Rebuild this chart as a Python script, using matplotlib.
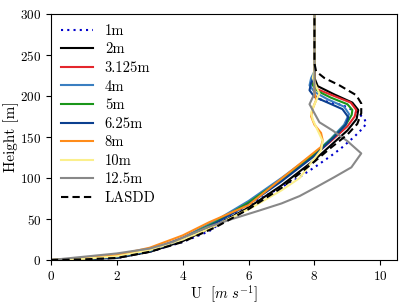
import matplotlib
matplotlib.use("Agg")
import matplotlib.pyplot as plt

plt.rcParams["font.family"] = ["cmr10", "DejaVu Serif"]
plt.rcParams["mathtext.fontset"] = "cm"
plt.rcParams["axes.formatter.use_mathtext"] = True

# -----------------------------
# profiles: (U [m/s], height [m])
# -----------------------------
u_1m = [0, 2, 3, 4, 4.8, 5.5, 6, 7, 7.5, 8, 8.5, 8.8, 9.2, 9.45, 9.57, 9.52, 9.3, 8.85, 8.3, 8.05, 8.0, 8.0]
z_1m = [0, 2.5, 10, 22, 35, 55, 67, 89, 100, 113, 127, 136, 150, 160, 166, 172, 180, 189, 194, 198, 205, 300]

u_2m = [0, 2, 3, 4, 5, 6, 7, 8, 8.5, 9, 9.28, 9.33, 9.15, 8.6, 8.1, 8.0, 8.0]
z_2m = [0, 2.5, 10, 23, 42, 64, 91, 122, 140, 158, 172, 183, 192, 202, 212, 222, 300]

u_3m = [0, 2, 3, 4, 5, 6, 7, 8, 8.5, 9, 9.22, 9.27, 9.1, 8.6, 8.1, 7.95, 8.0, 8.0]
z_3m = [0, 4, 12, 27, 47, 70, 97, 128, 145, 163, 175, 183, 192, 200, 208, 215, 225, 300]

u_4m = [0, 2, 3, 4, 5, 6, 7, 8, 8.5, 8.9, 9.05, 8.9, 8.4, 8.0, 7.85, 7.9, 8.0, 8.0]
z_4m = [0, 4, 12, 27, 48, 72, 100, 130, 148, 165, 178, 187, 196, 205, 213, 222, 230, 300]

u_5m = [0, 2, 3, 4, 5, 6, 7, 8, 8.5, 8.95, 9.13, 9.15, 9.0, 8.5, 8.1, 7.95, 8.0, 8.0]
z_5m = [0, 3.5, 11, 26, 46, 70, 98, 129, 147, 165, 177, 183, 190, 198, 206, 213, 222, 300]

u_6m = [0, 2, 3, 4, 5, 6, 7, 8, 8.6, 8.95, 9.03, 8.85, 8.4, 8.0, 7.85, 7.9, 8.0, 8.0]
z_6m = [0, 3, 11, 25, 45, 68, 96, 127, 150, 165, 174, 184, 192, 199, 207, 216, 225, 300]

u_8m = [0, 1, 2, 3, 4, 4.8, 6, 7.24, 8.2, 8.25, 8.2, 8.0, 7.9, 7.95, 8.05, 8.0, 8.0]
z_8m = [0, 2, 6, 15, 30, 46, 67, 107, 138, 146, 155, 165, 175, 185, 195, 205, 300]

u_10m = [0, 1, 2, 3, 4, 4.8, 5.5, 6.1, 7, 7.55, 7.85, 8.2, 8.25, 8.1, 7.95, 7.9, 8.0, 8.15, 8.05, 7.95, 8.0, 8.0]
z_10m = [0, 1.5, 4.5, 12, 25, 38, 52, 64, 85, 100, 116, 134, 145, 158, 171, 180, 190, 203, 212, 222, 232, 300]

u_12m = [0, 1, 2, 3, 3.7, 4.75, 5.5, 6.3, 7, 7.55, 8.06, 8.6, 9.12, 9.42, 9.0, 8.55, 8.15, 7.85, 8.0, 8.0, 8.0]
z_12m = [0, 4, 8, 14, 22, 40, 50, 60, 69, 78, 89, 101, 113, 130, 145, 158, 168, 190, 203, 215, 300]

u_lasdd = [0, 1, 2, 3, 4, 4.5, 5, 6, 7, 7.5, 8, 8.5, 9, 9.3, 9.42, 9.42, 9.27, 8.76, 8.3, 8.05, 8.0, 8.0]
z_lasdd = [0, 0.8, 2.5, 10, 22, 31, 40, 62, 88, 104, 120, 137, 153, 166, 179, 191, 201, 213, 222, 230, 240, 300]

fig = plt.figure(figsize=(4.07, 3.05), dpi=100)
ax = fig.add_axes([0.125, 0.1475, 0.85, 0.8065])

lw = 1.5
ax.plot(u_1m, z_1m, color="#0000cc", ls=(0, (1, 2)), lw=lw, label="1m")
ax.plot(u_2m, z_2m, color="black", lw=lw, label="2m")
ax.plot(u_3m, z_3m, color="#e4262c", lw=lw, label="3.125m")
ax.plot(u_4m, z_4m, color="#3a7fc1", lw=lw, label="4m")
ax.plot(u_5m, z_5m, color="#1a961a", lw=lw, label="5m")
ax.plot(u_6m, z_6m, color="#0b3f8f", lw=lw, label="6.25m")
ax.plot(u_8m, z_8m, color="#ff8c1a", lw=lw, label="8m")
ax.plot(u_10m, z_10m, color="#fbef8c", lw=lw, label="10m")
ax.plot(u_12m, z_12m, color="#888888", lw=lw, label="12.5m")
ax.plot(u_lasdd, z_lasdd, color="black", ls=(0, (3.5, 2)), lw=lw, label="LASDD")

ax.set_xlim(0, 10.5)
ax.set_ylim(0, 300)
ax.set_xticks([0, 2, 4, 6, 8, 10])
ax.set_yticks([0, 50, 100, 150, 200, 250, 300])
ax.tick_params(labelsize=9.5)
ax.set_xlabel(r"U  [$m\ s^{-1}$]", fontsize=10.5)
ax.set_ylabel("Height [m]", fontsize=11)
ax.xaxis.set_label_coords(0.5, -0.094)
ax.yaxis.set_label_coords(-0.093, 0.5)
ax.legend(loc="upper left", frameon=False, fontsize=10.5, labelspacing=0.33,
          handlelength=2.2, handletextpad=0.8, borderaxespad=0.3)

fig.savefig("out.png", dpi=100)
